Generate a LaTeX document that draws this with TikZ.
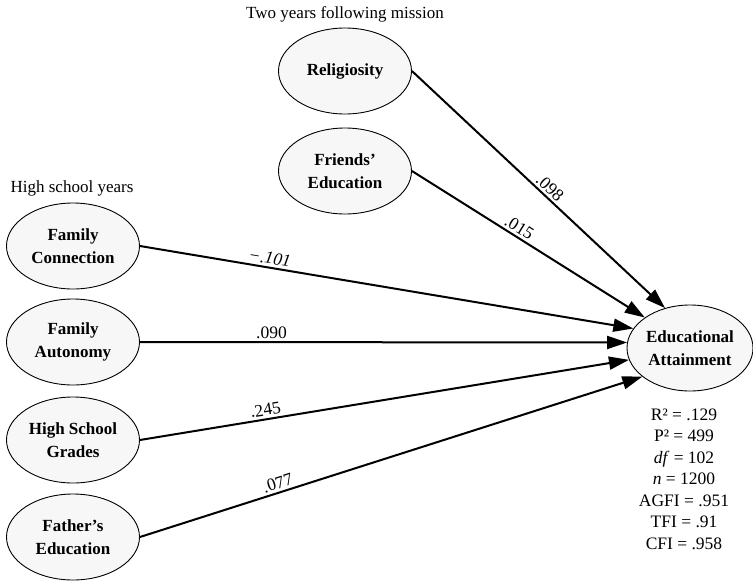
\documentclass[tikz,border=0pt]{standalone}
\usepackage{fontspec}
\setmainfont{Liberation Serif}
\usetikzlibrary{shapes.geometric,arrows.meta}
\begin{document}
\begin{tikzpicture}[x=1pt,y=-1pt,
  latent/.style={ellipse,draw=black,line width=0.9pt,fill=black!3,
    minimum width=133pt,minimum height=86pt,inner sep=0pt,align=center,
    font=\fontsize{17}{23}\selectfont\bfseries},
  path/.style={line width=2pt,-{Triangle[length=20pt,width=13pt]}},
  coef/.style={sloped,above,inner sep=2.5pt,font=\fontsize{17.5}{18}\selectfont},
  heading/.style={font=\fontsize{17}{20}\selectfont}]
\useasboundingbox (0,0) rectangle (753,581);

% group headings
\node[heading] (hmission) at (345,14) {Two years following mission};
\node[heading] (hschool) at (72,188) {High school years};

% predictors measured after the mission
\node[latent] (rel) at (345,71) {Religiosity};
\node[latent] (fri) at (345,171) {Friends’\\Education};

% predictors from the high school years
\node[latent] (fc) at (73,246) {Family\\Connection};
\node[latent] (fa) at (73,342) {Family\\Autonomy};
\node[latent] (hsg) at (73,440) {High School\\Grades};
\node[latent] (fe) at (73,537) {Father’s\\Education};

% outcome
\node[latent,minimum width=126pt] (ea) at (690,348) {Educational\\Attainment};

% fit statistics
\node[font=\fontsize{17.5}{21.5}\selectfont,align=center,anchor=north] (fit) at (684,405)
  {R² = .129\\P² = 499\\\textit{df} = 102\\ \textit{n} = 1200\\AGFI = .951\\TFI = .91\\CFI = .958};

% structural paths
\draw[path] (rel.east) -- node[coef,pos=0.52] {.098} (ea.122);
\draw[path] (fri.east) -- node[coef,pos=0.44] {.015} (ea.146);
\draw[path] (fc.east) -- node[coef,pos=0.26] {\textit{−.101}} (ea.161);
\draw[path] (fa.east) -- node[coef,pos=0.27] {.090} (ea.175);
\draw[path] (hsg.east) -- node[coef,pos=0.26] {.245} (ea.191);
\draw[path] (fe.east) -- node[coef,pos=0.28] {.077} (ea.211);
\end{tikzpicture}
\end{document}
